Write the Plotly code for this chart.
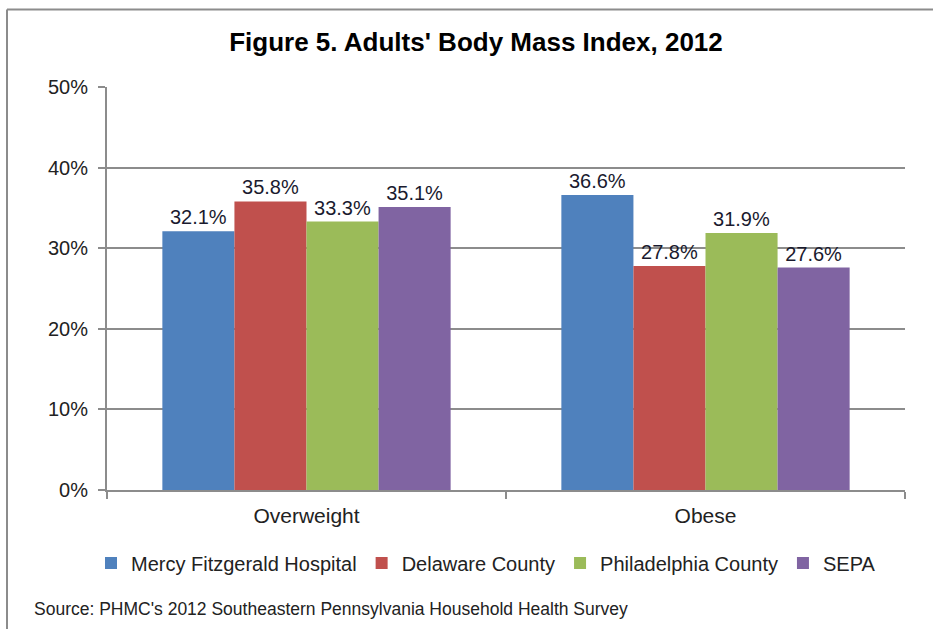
import plotly.graph_objects as go

categories = ["Overweight", "Obese"]
series_names = ["Mercy Fitzgerald Hospital", "Delaware County", "Philadelphia County", "SEPA"]
mercy = [32.1, 36.6]
delaware = [35.8, 27.8]
philadelphia = [33.3, 31.9]
sepa = [35.1, 27.6]
colors = ["#4F81BD", "#C0504D", "#9BBB59", "#8064A2"]

W, H = 933, 629
L, R, T, B = 107, 28, 87, 139
pw, ph = W - L - R, H - T - B
FONT = "Liberation Sans, Arial"

fig = go.Figure()
for name, vals, col in zip(series_names, [mercy, delaware, philadelphia, sepa], colors):
    fig.add_trace(go.Bar(
        x=categories, y=vals, name=name, marker_color=col, marker_line_width=0,
        text=[f"{v:.1f}%" for v in vals], textposition="outside",
        textfont=dict(family=FONT, size=20, color="#1a1a2e"),
        cliponaxis=False,
    ))

fig.update_layout(
    width=W, height=H,
    margin=dict(l=L, r=R, t=T, b=B),
    paper_bgcolor="white", plot_bgcolor="white",
    barmode="group", bargap=0.2775, bargroupgap=0,
    font=dict(family=FONT, color="#222"),
    title=dict(text="<b>Figure 5. Adults' Body Mass Index, 2012</b>",
               x=476 / W, xanchor="center", yref="container", y=1 - 42 / H, yanchor="middle",
               font=dict(size=26, color="#000")),
    showlegend=True,
    legend=dict(orientation="h", xref="container", yref="container",
                x=486 / W, xanchor="center", y=1 - 563 / H, yanchor="middle",
                font=dict(size=20, color="#222"), itemwidth=30, traceorder="normal",
                tracegroupgap=0),
    xaxis=dict(type="category", showline=True, linecolor="#8c8c8c", linewidth=2,
               ticks="outside", tickson="boundaries", ticklen=7, tickcolor="#8c8c8c",
               tickwidth=2, tickfont=dict(size=21, color="#222"), showgrid=False,
               ticklabelstandoff=6),
    yaxis=dict(range=[0, 50], dtick=10, ticksuffix="%", showline=True, linecolor="#8c8c8c",
               linewidth=2, ticks="outside", ticklen=7, tickcolor="#8c8c8c", tickwidth=2,
               showgrid=True, gridcolor="#8c8c8c", gridwidth=2, zeroline=False,
               tickfont=dict(size=20, color="#222"), ticklabelstandoff=6),
)

fig.add_annotation(text="Source: PHMC's 2012 Southeastern Pennsylvania Household Health Survey",
                   xref="paper", yref="paper", x=(32 - L) / pw, y=(H - B - 609) / ph,
                   xanchor="left", yanchor="middle", showarrow=False,
                   font=dict(size=17.5, color="#222"))

# chart frame (left and top edges)
fx = (7 - L) / pw
fy = (H - B - 9.5) / ph
fig.add_shape(type="line", xref="paper", yref="paper", x0=fx, x1=fx, y0=fy, y1=-1,
              line=dict(color="#8c8c8c", width=2))
fig.add_shape(type="line", xref="paper", yref="paper", x0=fx, x1=2, y0=fy, y1=fy,
              line=dict(color="#8c8c8c", width=2))

fig.write_html("out.html", config={"displayModeBar": False},
               post_script="document.body.style.margin='0';document.body.style.overflow='hidden';")
